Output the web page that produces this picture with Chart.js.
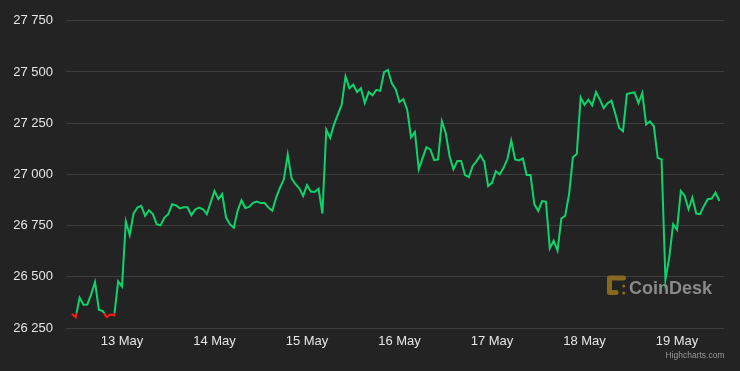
<!DOCTYPE html>
<html><head><meta charset="utf-8">
<script src="https://cdn.jsdelivr.net/npm/chart.js@4"></script>
<style>html,body{margin:0;padding:0;background:#232323;overflow:hidden}#wrap{width:740px;height:371px;position:relative}</style>
</head><body><div id="wrap"><canvas id="c" width="740" height="371"></canvas></div>
<script>
// Day tick positions (hours since 13 May 00:00) and their labels
const dayTicks = [0, 24, 48, 72, 96, 120, 144];
const dayLabels = ['13 May', '14 May', '15 May', '16 May', '17 May', '18 May', '19 May'];
// Hourly prices, first point at 12 May 11:00 (hour -13)
const startHour = -13;
const prices = [
  26318, 26303, 26398, 26364, 26365, 26414, 26474, 26339, 26333, 26303, 26316, 26312, 26478,
  26453, 26770, 26704, 26809, 26838, 26846, 26798, 26825, 26806, 26757, 26751, 26789,
  26806, 26854, 26849, 26834, 26839, 26839, 26801, 26829, 26838, 26830, 26806, 26862,
  26919, 26879, 26904, 26789, 26757, 26739, 26822, 26874, 26836, 26841, 26861, 26867,
  26860, 26860, 26838, 26822, 26887, 26935, 26976, 27097, 26981, 26952, 26932, 26895,
  26948, 26916, 26914, 26930, 26809, 27219, 27178, 27243, 27292, 27340, 27478, 27421,
  27438, 27402, 27421, 27348, 27402, 27386, 27413, 27408, 27499, 27510, 27445, 27416,
  27353, 27368, 27316, 27181, 27207, 27025, 27081, 27133, 27122, 27070, 27073, 27259,
  27202, 27089, 27025, 27065, 27065, 26997, 26987, 27041, 27065, 27094, 27061, 26943,
  26959, 27016, 27000, 27032, 27075, 27165, 27073, 27068, 27078, 26997, 26997, 26854,
  26822, 26870, 26867, 26639, 26676, 26628, 26784, 26798, 26903, 27084, 27100, 27376,
  27340, 27365, 27337, 27402, 27365, 27324, 27348, 27360, 27296, 27227, 27211, 27392,
  27397, 27400, 27348, 27397, 27243, 27259, 27235, 27081, 27073, 26485, 26595, 26757,
  26730, 26919, 26895, 26830, 26887, 26809, 26806, 26846, 26879, 26882, 26911, 26870
];
const yTicks = [26250, 26500, 26750, 27000, 27250, 27500, 27750];
const threshold = 26322;

const GREEN = '#0bd46c', RED = '#ff1a1a';
const points = prices.map((p, i) => ({ x: startHour + i, y: p }));
const fmt = v => String(v).replace(/\B(?=(\d{3})+(?!\d))/g, ' ');
const FONT = 'Helvetica, Arial, "Liberation Sans", sans-serif';

const bgPlugin = {
  id: 'bg',
  beforeDraw(chart) {
    const c = chart.ctx; c.save(); c.fillStyle = '#232323';
    c.fillRect(0, 0, chart.width, chart.height); c.restore();
  }
};
const markPlugin = {
  id: 'mark',
  beforeDatasetsDraw(chart) {
    const c = chart.ctx; c.save();
    c.fillStyle = '#86691f'; c.strokeStyle = '#86691f';
    c.lineWidth = 5; c.lineCap = 'round'; c.lineJoin = 'round';
    c.beginPath();
    c.moveTo(623.5, 278); c.lineTo(609.5, 278); c.lineTo(609.5, 292.5); c.lineTo(616, 292.5);
    c.stroke();
    c.beginPath(); c.arc(623.7, 286, 1.6, 0, Math.PI * 2); c.fill();
    c.beginPath(); c.arc(623.7, 293, 1.6, 0, Math.PI * 2); c.fill();
    c.fillStyle = '#8a8a8a';
    c.font = 'bold 18px ' + FONT;
    c.textBaseline = 'alphabetic'; c.textAlign = 'left';
    c.fillText('CoinDesk', 629, 293.5);
    c.restore();
  },
  afterDraw(chart) {
    const c = chart.ctx; c.save();
    c.fillStyle = '#999999'; c.font = '8.5px ' + FONT;
    c.textAlign = 'right'; c.textBaseline = 'middle';
    c.fillText('Highcharts.com', 724.5, 356);
    c.restore();
  }
};

new Chart(document.getElementById('c'), {
  type: 'line',
  data: {
    datasets: [{
      data: points,
      borderWidth: 2,
      pointRadius: 0,
      tension: 0,
      fill: false,
      borderColor(ctx) {
        const chart = ctx.chart, area = chart.chartArea;
        if (!area) return GREEN;
        const yt = chart.scales.y.getPixelForValue(threshold);
        let f = (yt - area.top) / (area.bottom - area.top);
        f = Math.max(0, Math.min(1, f));
        const g = chart.ctx.createLinearGradient(0, area.top, 0, area.bottom);
        g.addColorStop(0, GREEN); g.addColorStop(f, GREEN);
        g.addColorStop(f, RED); g.addColorStop(1, RED);
        return g;
      }
    }]
  },
  options: {
    responsive: false,
    devicePixelRatio: 1,
    animation: false,
    layout: { padding: { top: 19, right: 16, left: 0, bottom: 0 } },
    plugins: { legend: { display: false }, tooltip: { enabled: false } },
    scales: {
      x: {
        type: 'linear',
        min: -14.53, max: 156.2,
        grid: { display: false, drawTicks: false },
        border: { display: false },
        afterBuildTicks(axis) { axis.ticks = dayTicks.map(v => ({ value: v })); },
        afterFit(axis) { axis.height = 43; },
        ticks: {
          color: '#e6e6e6', font: { size: 13, family: FONT }, padding: 6,
          maxRotation: 0, autoSkip: false,
          callback(v) { const i = dayTicks.indexOf(v); return i >= 0 ? dayLabels[i] : ''; }
        }
      },
      y: {
        min: 26250, max: 27750,
        grid: { color: '#3d3d3d', lineWidth: 1, drawTicks: false },
        border: { display: false },
        afterBuildTicks(axis) { axis.ticks = yTicks.map(v => ({ value: v })); },
        afterFit(axis) { axis.width = 66; },
        ticks: {
          color: '#e6e6e6', font: { size: 13, family: FONT }, padding: 13,
          callback(v) { return fmt(v); }
        }
      }
    }
  },
  plugins: [bgPlugin, markPlugin]
});
</script>
</body></html>
